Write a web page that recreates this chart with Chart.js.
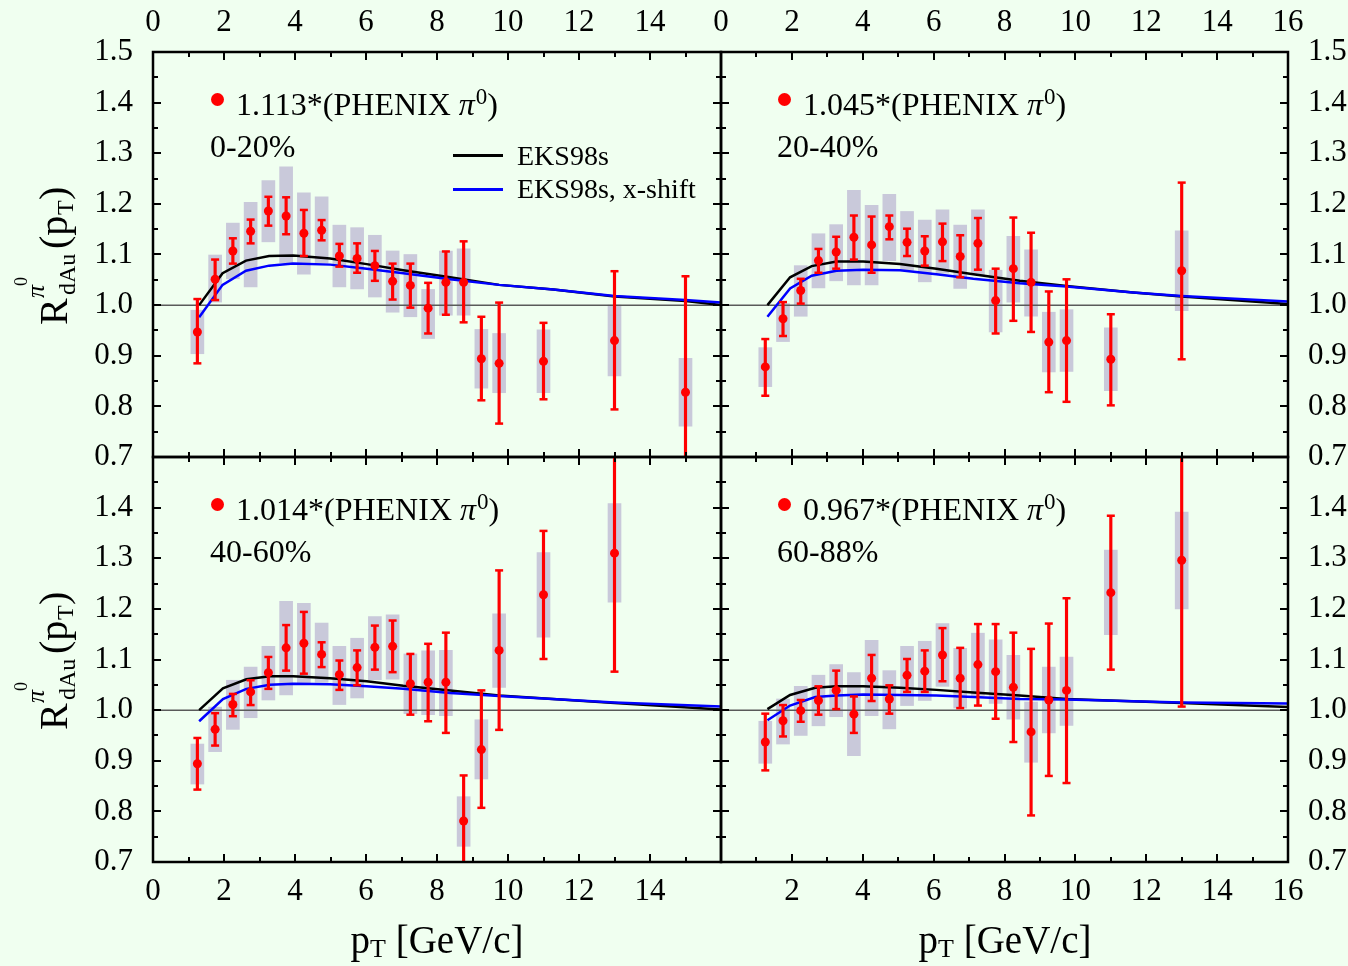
<!DOCTYPE html>
<html>
<head>
<meta charset="utf-8">
<script src="https://cdn.jsdelivr.net/npm/chart.js@4.4.1/dist/chart.umd.min.js"></script>
<style>
html,body{margin:0;padding:0;background:#f0fff0;width:1348px;height:966px;overflow:hidden;position:relative}
canvas{position:absolute;left:0;top:0}
.t{position:absolute;font-family:'Liberation Serif','Times New Roman',serif;color:#000;white-space:nowrap}
.ann{font-size:32px;line-height:32px}
.sup0{font-size:23px;position:relative;top:-11px;margin-left:1px}
.leg{font-size:28px;line-height:28px}
.dot{position:absolute;width:13px;height:13px;border-radius:50%;background:#ff0000}
.lline{position:absolute;width:50px;height:2.5px}
.xt{font-size:39px;line-height:39px;width:400px;text-align:center}
.xt .s{font-size:26px;position:relative;top:4px}
.yt{position:absolute;width:142px;height:70px;transform:rotate(-90deg);font-family:'Liberation Serif','Times New Roman',serif;color:#000}
.yt span{position:absolute;white-space:nowrap}
</style>
</head>
<body>
<canvas id="c1" width="1348" height="966"></canvas>
<canvas id="c2" width="1348" height="966"></canvas>
<canvas id="c3" width="1348" height="966"></canvas>
<canvas id="c4" width="1348" height="966"></canvas>
<div id="overlay"></div>
<script>
// ---------- axis ticks ----------
const X_MAJOR = [0, 2, 4, 6, 8, 10, 12, 14, 16];
const X_MINOR = [1, 3, 5, 7, 9, 11, 13, 15];
const Y_MAJOR = [0.7, 0.8, 0.9, 1.0, 1.1, 1.2, 1.3, 1.4, 1.5];
const Y_MINOR = [0.75, 0.85, 0.95, 1.05, 1.15, 1.25, 1.35, 1.45];
const UNITY_PT = [0, 16];
const UNITY = [1, 1];

// ---------- 0-20% ----------
const pt_0_20 = [1.25,1.75,2.25,2.75,3.25,3.75,4.25,4.75,5.25,5.75,6.25,6.75,7.25,7.75,8.25,8.75,9.25,9.75,11,13,15];
const r_0_20 = [0.947,1.051,1.107,1.146,1.186,1.176,1.142,1.148,1.097,1.092,1.078,1.047,1.039,0.994,1.045,1.045,0.894,0.885,0.889,0.930,0.828];
const statLo_0_20 = [0.885,1.010,1.082,1.122,1.157,1.140,1.097,1.128,1.076,1.064,1.048,1.011,0.995,0.944,0.981,0.966,0.812,0.766,0.814,0.794,0.680];
const statHi_0_20 = [1.012,1.090,1.132,1.169,1.214,1.213,1.188,1.168,1.121,1.122,1.107,1.082,1.082,1.044,1.106,1.126,0.977,1.005,0.965,1.067,1.057];
const sysLo_0_20 = [0.904,1.006,1.052,1.036,1.125,1.084,1.061,1.083,1.036,1.032,1.016,0.986,0.977,0.934,0.980,0.980,0.836,0.827,0.827,0.860,0.761];
const sysHi_0_20 = [0.990,1.099,1.162,1.203,1.246,1.273,1.222,1.214,1.158,1.153,1.138,1.107,1.100,1.031,1.107,1.111,0.952,0.944,0.951,1.000,0.895];
const ptCurve_0_20 = [1.30,1.96,2.62,3.27,3.95,4.99,6.02,7.05,8.37,9.75,11.28,13,15,16];
const eks_0_20 = [1.000,1.063,1.088,1.097,1.098,1.092,1.081,1.069,1.055,1.040,1.031,1.017,1.008,1.000];
const eksX_0_20 = [0.976,1.040,1.068,1.078,1.082,1.080,1.072,1.063,1.051,1.040,1.031,1.018,1.010,1.005];

// ---------- 20-40% ----------
const pt_20_40 = [1.25,1.75,2.25,2.75,3.25,3.75,4.25,4.75,5.25,5.75,6.25,6.75,7.25,7.75,8.25,8.75,9.25,9.75,11,13];
const r_20_40 = [0.878,0.973,1.029,1.088,1.105,1.134,1.119,1.155,1.124,1.107,1.125,1.096,1.122,1.009,1.072,1.045,0.927,0.930,0.893,1.068];
const statLo_20_40 = [0.821,0.939,1.003,1.064,1.072,1.090,1.064,1.130,1.097,1.078,1.087,1.055,1.070,0.944,0.969,0.947,0.828,0.809,0.802,0.893];
const statHi_20_40 = [0.933,1.006,1.052,1.111,1.135,1.177,1.175,1.177,1.151,1.136,1.161,1.138,1.172,1.072,1.173,1.143,1.027,1.051,0.982,1.242];
const sysLo_20_40 = [0.839,0.928,0.978,1.034,1.048,1.040,1.040,1.088,1.069,1.046,1.063,1.033,1.060,0.947,1.006,0.978,0.868,0.869,0.831,0.989];
const sysHi_20_40 = [0.916,1.003,1.078,1.141,1.159,1.227,1.197,1.219,1.185,1.168,1.188,1.158,1.188,1.069,1.136,1.109,0.986,0.991,0.955,1.147];
const ptCurve_20_40 = [1.31,1.95,2.56,3.26,4.01,5.05,6.08,7.12,8.43,9.75,11.63,13,16];
const eks_20_40 = [1.000,1.055,1.077,1.086,1.086,1.081,1.072,1.061,1.048,1.038,1.025,1.017,1.002];
const eksX_20_40 = [0.977,1.033,1.058,1.068,1.070,1.069,1.061,1.052,1.043,1.037,1.025,1.018,1.007];

// ---------- 40-60% ----------
const pt_40_60 = [1.25,1.75,2.25,2.75,3.25,3.75,4.25,4.75,5.25,5.75,6.25,6.75,7.25,7.75,8.25,8.75,9.25,9.75,11,13];
const r_40_60 = [0.894,0.962,1.011,1.036,1.074,1.123,1.132,1.110,1.070,1.084,1.124,1.126,1.052,1.055,1.055,0.781,0.922,1.118,1.228,1.310];
const statLo_40_60 = [0.843,0.930,0.988,1.010,1.042,1.078,1.072,1.085,1.040,1.049,1.080,1.075,0.991,0.978,0.955,0.695,0.807,0.961,1.101,1.076];
const statHi_40_60 = [0.945,0.994,1.032,1.059,1.105,1.168,1.194,1.134,1.098,1.118,1.167,1.177,1.111,1.131,1.153,0.871,1.039,1.276,1.354,1.505];
const sysLo_40_60 = [0.854,0.918,0.962,0.985,1.020,1.030,1.052,1.055,1.011,1.024,1.060,1.061,0.993,0.991,0.989,0.731,0.864,1.045,1.144,1.213];
const sysHi_40_60 = [0.933,1.006,1.059,1.085,1.126,1.215,1.211,1.172,1.126,1.142,1.185,1.188,1.111,1.117,1.118,0.829,0.981,1.190,1.311,1.408];
const ptCurve_40_60 = [1.30,1.97,2.63,3.29,3.95,4.99,6.02,7.05,8.37,9.75,13,16];
const eks_40_60 = [1.000,1.043,1.061,1.067,1.067,1.063,1.057,1.048,1.039,1.029,1.014,1.001];
const eksX_40_60 = [0.978,1.022,1.042,1.050,1.052,1.051,1.047,1.042,1.034,1.028,1.015,1.007];

// ---------- 60-88% ----------
const pt_60_88 = [1.25,1.75,2.25,2.75,3.25,3.75,4.25,4.75,5.25,5.75,6.25,6.75,7.25,7.75,8.25,8.75,9.25,9.75,11,13];
const r_60_88 = [0.937,0.979,0.999,1.019,1.039,0.992,1.063,1.022,1.069,1.077,1.109,1.063,1.090,1.076,1.045,0.957,1.020,1.039,1.232,1.296];
const statLo_60_88 = [0.881,0.948,0.977,0.991,1.002,0.955,1.018,0.993,1.036,1.036,1.057,1.004,1.009,0.983,0.937,0.792,0.870,0.856,1.080,1.007];
const statHi_60_88 = [0.993,1.010,1.020,1.047,1.078,1.027,1.109,1.049,1.101,1.118,1.162,1.123,1.170,1.170,1.153,1.121,1.171,1.221,1.384,1.505];
const sysLo_60_88 = [0.895,0.933,0.950,0.969,0.987,0.910,0.989,0.963,1.009,1.019,1.047,1.004,1.029,1.013,0.982,0.897,0.955,0.970,1.149,1.200];
const sysHi_60_88 = [0.978,1.022,1.047,1.069,1.090,1.074,1.138,1.078,1.126,1.136,1.171,1.122,1.152,1.139,1.108,1.016,1.085,1.105,1.316,1.391];
const ptCurve_60_88 = [1.31,1.95,2.66,3.26,4.01,5.05,6.08,7.12,8.43,9.75,13,16];
const eks_60_88 = [1.002,1.030,1.044,1.047,1.047,1.044,1.040,1.035,1.029,1.022,1.014,1.006];
const eksX_60_88 = [0.980,1.009,1.026,1.029,1.031,1.030,1.029,1.026,1.022,1.021,1.015,1.013];

// ---------- texts ----------
const SCALES_TXT = ['1.113', '1.045', '1.014', '0.967'];
const CENTRALITY = ['0-20%', '20-40%', '40-60%', '60-88%'];
const LEGEND_TXT = ['EKS98s', 'EKS98s, x-shift'];

const FONT = "'Liberation Serif','Times New Roman',serif";
const W = 1348, H = 966;

function xy(xs, ys) { return xs.map((x, i) => ({x: x, y: ys[i]})); }
function rng(xs, lo, hi) { return xs.map((x, i) => ({x: x, y: [lo[i], hi[i]]})); }

const frameTicks = {
  id: 'frameTicks',
  afterDatasetsDraw(chart) {
    const {ctx, chartArea: a} = chart;
    const xs = chart.scales.x, ys = chart.scales.y;
    ctx.save();
    ctx.strokeStyle = '#000';
    ctx.lineWidth = 2;
    ctx.beginPath();
    const vt = (vals, len) => vals.forEach(v => {
      const p = Math.round(xs.getPixelForValue(v));
      ctx.moveTo(p, a.top); ctx.lineTo(p, a.top + len);
      ctx.moveTo(p, a.bottom); ctx.lineTo(p, a.bottom - len);
    });
    const ht = (vals, len) => vals.forEach(v => {
      const p = Math.round(ys.getPixelForValue(v));
      ctx.moveTo(a.left, p); ctx.lineTo(a.left + len, p);
      ctx.moveTo(a.right, p); ctx.lineTo(a.right - len, p);
    });
    vt(X_MAJOR, 8); vt(X_MINOR, 5); ht(Y_MAJOR, 8); ht(Y_MINOR, 5);
    ctx.stroke();
    ctx.lineWidth = 2.5;
    ctx.strokeRect(a.left, a.top, a.right - a.left, a.bottom - a.top);
    ctx.restore();
  }
};

function axis(pos, show, size, hide) {
  const horiz = (pos === 'top' || pos === 'bottom');
  return {
    type: 'linear', position: pos, display: true,
    min: horiz ? 0 : 0.7, max: horiz ? 16 : 1.5, offset: false,
    grid: {display: false, drawTicks: false}, border: {display: false},
    ticks: {
      display: show, stepSize: horiz ? 2 : 0.1, autoSkip: false, maxRotation: 0, minRotation: 0,
      padding: horiz ? 11 : 20, color: '#000', font: {family: FONT, size: 31},
      callback: (v) => hide.some(h => Math.abs(h - v) < 1e-6) ? '' : (horiz ? String(Math.round(v)) : v.toFixed(1))
    },
    afterFit: (s) => { if (horiz) s.height = size; else s.width = size; }
  };
}

function makePanel(id, area, lab, d) {
  const leftW = lab.left ? area.l : 0;
  const topH = lab.top ? area.t : 0;
  const rightW = lab.right ? W - area.r : 0;
  const botH = lab.bottom ? H - area.b : 0;
  return new Chart(document.getElementById(id), {
    type: 'scatter',
    data: {
      datasets: [
        {type: 'bar', data: rng(d.pt, d.sysLo, d.sysHi), backgroundColor: '#c9c9da', barThickness: 13, grouped: false, order: 6},
        {type: 'line', data: xy(UNITY_PT, UNITY), borderColor: '#5a5a5a', borderWidth: 1.5, pointRadius: 0, showLine: true, order: 5},
        {type: 'line', data: xy(d.ptc, d.eks), borderColor: '#000000', borderWidth: 2.5, pointRadius: 0, showLine: true, tension: 0, order: 4},
        {type: 'line', data: xy(d.ptc, d.eksX), borderColor: '#0000ff', borderWidth: 2.5, pointRadius: 0, showLine: true, tension: 0, order: 3},
        {type: 'bar', data: rng(d.pt, d.lo, d.hi), backgroundColor: '#ff0000', barThickness: 2.5, grouped: false, order: 2},
        {type: 'scatter', data: xy(d.pt, d.lo).concat(xy(d.pt, d.hi)), pointStyle: 'line', pointRadius: 4, borderColor: '#ff0000', borderWidth: 2.5, order: 1},
        {type: 'scatter', data: xy(d.pt, d.r), pointRadius: 4.5, backgroundColor: '#ff0000', borderWidth: 0, order: 0}
      ]
    },
    options: {
      responsive: false, animation: false, events: [],
      layout: {padding: {left: area.l - leftW, top: area.t - topH, right: W - area.r - rightW, bottom: H - area.b - botH}},
      plugins: {legend: {display: false}, tooltip: {enabled: false}},
      scales: {
        x: axis('bottom', lab.bottom, botH, lab.xHideB),
        x2: axis('top', lab.top, topH, lab.xHideT),
        y: axis('left', lab.left, leftW, lab.yHide),
        y2: axis('right', lab.right, rightW, lab.yHide)
      }
    },
    plugins: [frameTicks]
  });
}

const XL = 153, XM = 721, XR = 1288, YT = 52, YM = 457, YB = 862;
makePanel('c1', {l: XL, t: YT, r: XM, b: YM}, {left: true, top: true, right: false, bottom: false, xHideT: [16], xHideB: [], yHide: []},
  {pt: pt_0_20, r: r_0_20, lo: statLo_0_20, hi: statHi_0_20, sysLo: sysLo_0_20, sysHi: sysHi_0_20, ptc: ptCurve_0_20, eks: eks_0_20, eksX: eksX_0_20});
makePanel('c2', {l: XM, t: YT, r: XR, b: YM}, {left: false, top: true, right: true, bottom: false, xHideT: [], xHideB: [], yHide: []},
  {pt: pt_20_40, r: r_20_40, lo: statLo_20_40, hi: statHi_20_40, sysLo: sysLo_20_40, sysHi: sysHi_20_40, ptc: ptCurve_20_40, eks: eks_20_40, eksX: eksX_20_40});
makePanel('c3', {l: XL, t: YM, r: XM, b: YB}, {left: true, top: false, right: false, bottom: true, xHideT: [], xHideB: [16], yHide: [1.5]},
  {pt: pt_40_60, r: r_40_60, lo: statLo_40_60, hi: statHi_40_60, sysLo: sysLo_40_60, sysHi: sysHi_40_60, ptc: ptCurve_40_60, eks: eks_40_60, eksX: eksX_40_60});
makePanel('c4', {l: XM, t: YM, r: XR, b: YB}, {left: false, top: false, right: true, bottom: true, xHideT: [], xHideB: [0], yHide: [1.5]},
  {pt: pt_60_88, r: r_60_88, lo: statLo_60_88, hi: statHi_60_88, sysLo: sysLo_60_88, sysHi: sysHi_60_88, ptc: ptCurve_60_88, eks: eks_60_88, eksX: eksX_60_88});

// ---------- text overlays ----------
const ov = document.getElementById('overlay');
function add(html) { ov.insertAdjacentHTML('beforeend', html); }
const PANEL_POS = [[0, 0], [567, 0], [0, 405], [567, 405]];
PANEL_POS.forEach((p, i) => {
  const dx = p[0], dy = p[1];
  add(`<div class="dot" style="left:${211 + dx}px;top:${92.5 + dy}px"></div>`);
  add(`<div class="t ann" style="left:${236 + dx}px;top:${88 + dy}px">${SCALES_TXT[i]}*(PHENIX <i>π</i><span class="sup0">0</span>)</div>`);
  add(`<div class="t ann" style="left:${210 + dx}px;top:${130 + dy}px">${CENTRALITY[i]}</div>`);
});
add(`<div class="lline" style="left:453px;top:154px;background:#000"></div>`);
add(`<div class="lline" style="left:453px;top:188px;background:#0000ff"></div>`);
add(`<div class="t leg" style="left:517px;top:141.5px">${LEGEND_TXT[0]}</div>`);
add(`<div class="t leg" style="left:517px;top:174.5px">${LEGEND_TXT[1]}</div>`);
[437, 1005].forEach(cx => add(`<div class="t xt" style="left:${cx - 200}px;top:920px">p<span class="s">T</span> [GeV/c]</div>`));
[254, 659].forEach(cy => add(
  `<div class="yt" style="left:${45 - 71}px;top:${cy - 35}px">` +
  `<span style="font-size:40px;line-height:40px;left:0;top:23.5px">R</span>` +
  `<span style="font-size:26px;line-height:26px;left:27px;top:13.2px;font-style:italic">π</span>` +
  `<span style="font-size:18px;line-height:18px;left:39px;top:2px">0</span>` +
  `<span style="font-size:24px;line-height:24px;left:30px;top:45px">dAu</span>` +
  `<span style="font-size:40px;line-height:40px;left:76px;top:23.5px">(p</span>` +
  `<span style="font-size:24px;line-height:24px;left:110px;top:43px">T</span>` +
  `<span style="font-size:40px;line-height:40px;left:125px;top:23.5px">)</span>` +
  `</div>`));
</script>
</body>
</html>
